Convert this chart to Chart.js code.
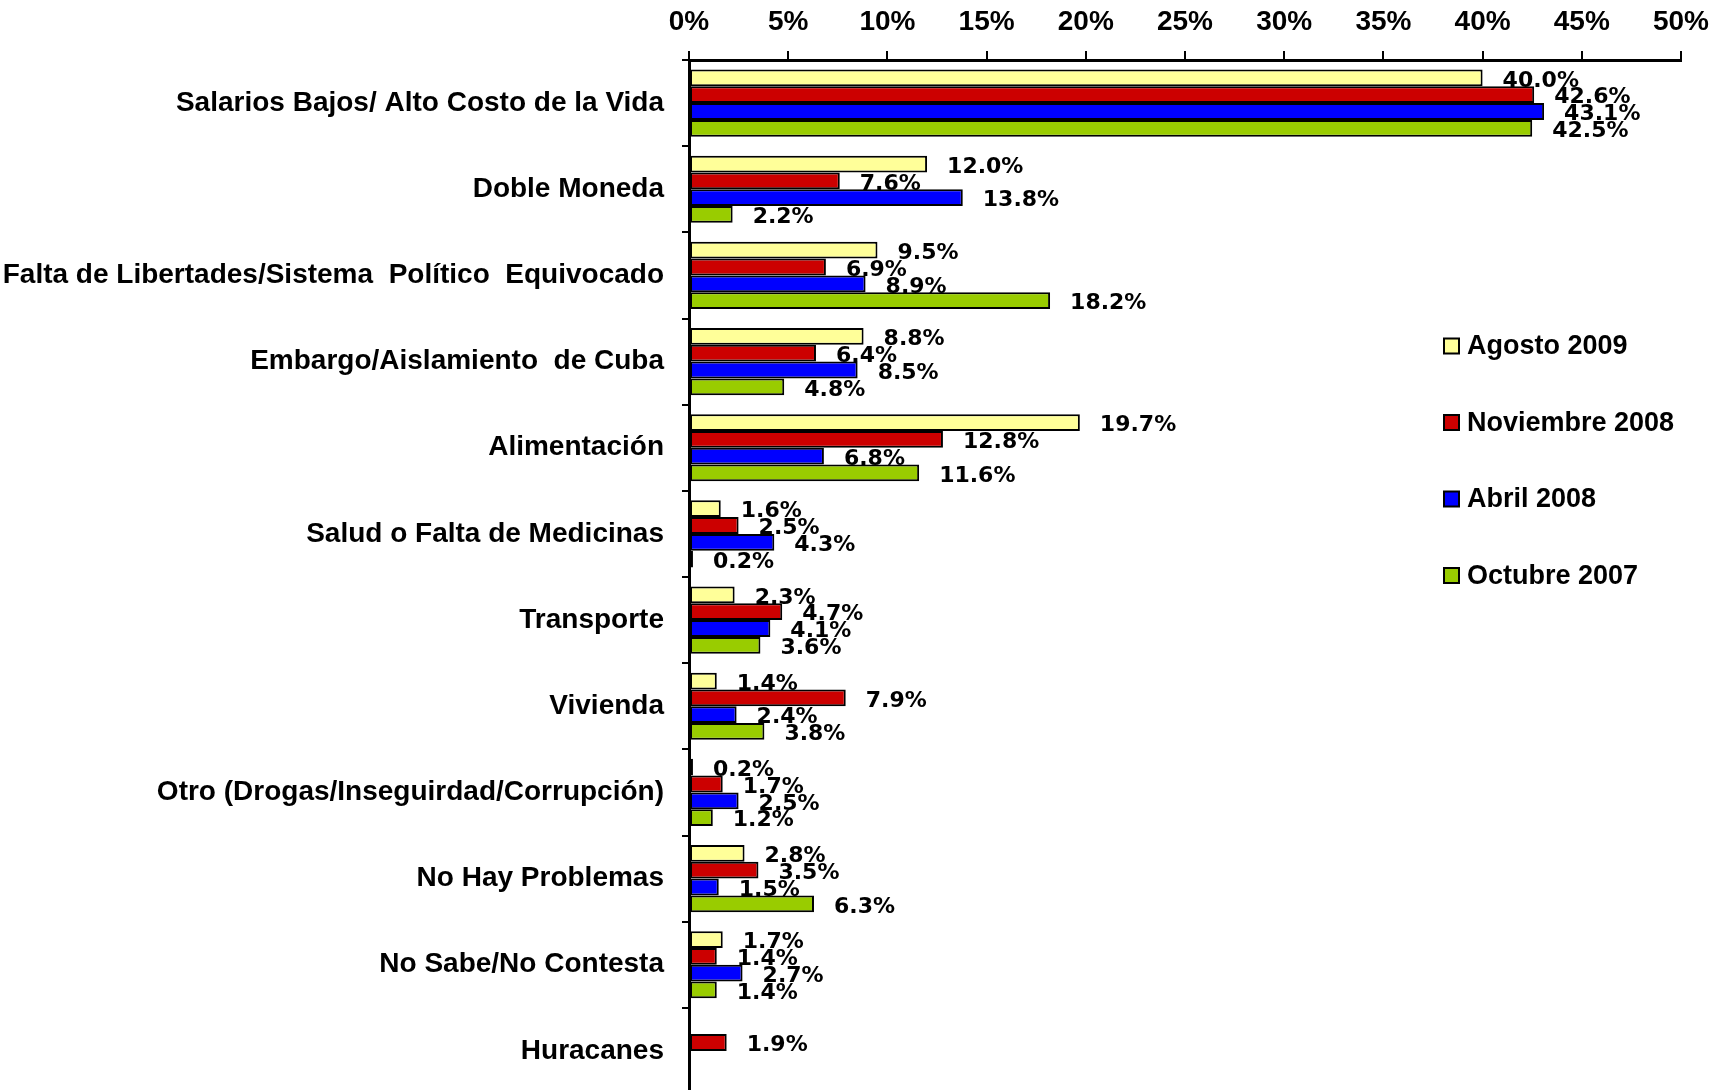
<!DOCTYPE html>
<html>
<head>
<meta charset="utf-8">
<script src="https://cdn.jsdelivr.net/npm/chart.js@4.4.1/dist/chart.umd.min.js"></script>
<style>
  html, body { margin: 0; padding: 0; background: #fff; overflow: hidden; }
  canvas { display: block; }
</style>
</head>
<body>
<canvas id="problemasChart" width="1724" height="1094"></canvas>
<script>
const categorias = [
  "Salarios Bajos/ Alto Costo de la Vida",
  "Doble Moneda",
  "Falta de Libertades/Sistema  Político  Equivocado",
  "Embargo/Aislamiento  de Cuba",
  "Alimentación",
  "Salud o Falta de Medicinas",
  "Transporte",
  "Vivienda",
  "Otro (Drogas/Inseguirdad/Corrupción)",
  "No Hay Problemas",
  "No Sabe/No Contesta",
  "Huracanes"
];
const agosto2009    = [40.0, 12.0, 9.5, 8.8, 19.7, 1.6, 2.3, 1.4, 0.2, 2.8, 1.7, null];
const noviembre2008 = [42.6, 7.6, 6.9, 6.4, 12.8, 2.5, 4.7, 7.9, 1.7, 3.5, 1.4, 1.9];
const abril2008     = [43.1, 13.8, 8.9, 8.5, 6.8, 4.3, 4.1, 2.4, 2.5, 1.5, 2.7, null];
const octubre2007   = [42.5, 2.2, 18.2, 4.8, 11.6, 0.2, 3.6, 3.8, 1.2, 6.3, 1.4, null];

const fuenteEjes = { family: "'Liberation Sans', Arial, sans-serif", size: 28, weight: "bold" };

// etiquetas de valor a la derecha de cada barra
const etiquetasPlugin = {
  id: "etiquetas",
  afterDatasetsDraw(chart) {
    const ctx = chart.ctx;
    ctx.save();
    ctx.font = "bold 22px 'DejaVu Sans', Verdana, sans-serif";
    ctx.fillStyle = "#000";
    ctx.textAlign = "left";
    ctx.textBaseline = "middle";
    chart.data.datasets.forEach((ds, i) => {
      const meta = chart.getDatasetMeta(i);
      meta.data.forEach((bar, j) => {
        const v = ds.data[j];
        if (v === null || v === undefined) return;
        ctx.fillText(v.toFixed(1) + "%", bar.x + 20, bar.y + 3);
      });
    });
    ctx.restore();
  }
};

// leyenda dentro del área del gráfico
const leyendaPlugin = {
  id: "leyenda",
  afterDraw(chart) {
    const ctx = chart.ctx;
    const x0 = 1444, y0 = 346, paso = 76.5, caja = 15;
    ctx.save();
    ctx.font = "bold 27px 'Liberation Sans', Arial, sans-serif";
    ctx.textBaseline = "middle";
    ctx.textAlign = "left";
    chart.data.datasets.forEach((ds, i) => {
      const y = y0 + i * paso;
      ctx.fillStyle = ds.backgroundColor;
      ctx.fillRect(x0, y - caja / 2, caja, caja);
      ctx.lineWidth = 2;
      ctx.strokeStyle = "#000";
      ctx.strokeRect(x0, y - caja / 2, caja, caja);
      ctx.fillStyle = "#000";
      ctx.fillText(ds.label, x0 + 23, y + 1);
    });
    ctx.restore();
  }
};

const ctx = document.getElementById("problemasChart").getContext("2d");

const chart = new Chart(ctx, {
  type: "bar",
  data: {
    labels: categorias,
    datasets: [
      { label: "Agosto 2009", data: agosto2009, backgroundColor: "#FFFF99" },
      { label: "Noviembre 2008", data: noviembre2008, backgroundColor: "#CC0000" },
      { label: "Abril 2008", data: abril2008, backgroundColor: "#0000FF" },
      { label: "Octubre 2007", data: octubre2007, backgroundColor: "#99CC00" }
    ]
  },
  options: {
    indexAxis: "y",
    responsive: false,
    animation: false,
    devicePixelRatio: 1,
    layout: { padding: { left: 0, right: 43, top: 0, bottom: 0 } },
    datasets: {
      bar: {
        categoryPercentage: 0.78,
        barPercentage: 1.0,
        borderWidth: 2,
        borderColor: "#000",
        borderSkipped: false
      }
    },
    plugins: {
      legend: { display: false },
      tooltip: { enabled: false }
    },
    scales: {
      x: {
        position: "top",
        min: 0,
        max: 50,
        ticks: {
          stepSize: 5,
          color: "#000",
          font: fuenteEjes,
          padding: 12,
          callback: v => v + "%"
        },
        grid: { drawOnChartArea: false, color: "#000", lineWidth: 2, tickLength: 9 },
        border: { color: "#000", width: 3 },
        afterFit: scale => {
          scale.height = 60;
          scale.paddingLeft = 0;
          scale.paddingRight = 0;
        }
      },
      y: {
        offset: true,
        ticks: { color: "#000", font: fuenteEjes, padding: 18 },
        grid: { offset: true, drawOnChartArea: false, color: "#000", lineWidth: 2, tickLength: 7 },
        border: { color: "#000", width: 3 },
        afterFit: scale => {
          scale.width = 689;
          scale.paddingTop = 0;
          scale.paddingBottom = 0;
        }
      }
    }
  },
  plugins: [etiquetasPlugin, leyendaPlugin]
});
</script>
</body>
</html>
